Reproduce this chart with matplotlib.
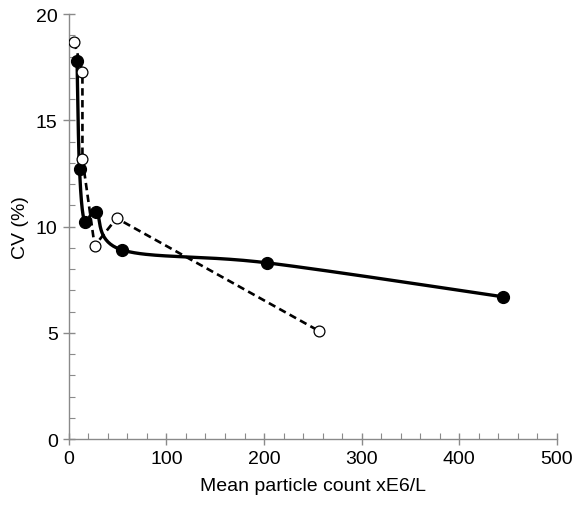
import numpy as np
import matplotlib
matplotlib.use("Agg")
import matplotlib.pyplot as plt
from matplotlib.ticker import MultipleLocator

plt.rcParams['font.family'] = ['Liberation Sans', 'DejaVu Sans']

# filled circles, solid smoothed line
count_filled = [8.5, 11, 16.5, 28, 55, 203, 445]
cv_filled = [17.8, 12.7, 10.2, 10.7, 8.9, 8.3, 6.7]

# open circles, dashed line
count_open = [5.5, 14, 14, 26.5, 49, 256]
cv_open = [18.7, 17.3, 13.2, 9.1, 10.4, 5.1]

x_ticks = [0, 100, 200, 300, 400, 500]
y_ticks = [0, 5, 10, 15, 20]


def smooth(xs, ys, sx, sy, n=40):
    # catmull-rom through the points, done in scaled coords so the curve looks right
    p = np.column_stack([np.asarray(xs) / sx, np.asarray(ys) / sy])
    p = np.vstack([p[0], p, p[-1]])
    out = []
    t = np.linspace(0, 1, n)[:, None]
    for i in range(1, len(p) - 2):
        p0, p1, p2, p3 = p[i - 1], p[i], p[i + 1], p[i + 2]
        seg = 0.5 * ((2 * p1) + (-p0 + p2) * t
                     + (2 * p0 - 5 * p1 + 4 * p2 - p3) * t ** 2
                     + (-p0 + 3 * p1 - 3 * p2 + p3) * t ** 3)
        out.append(seg)
    out = np.vstack(out)
    return out[:, 0] * sx, out[:, 1] * sy


fig = plt.figure(figsize=(5.73, 5.06), dpi=100)
ax = fig.add_axes([0.12, 0.13, 0.852, 0.84])

grey = '#8a8a8a'

sx, sy = smooth(count_filled, cv_filled, 500.0, 20.0 * 425 / 488)
ax.plot(sx, sy, color='black', lw=2.4, solid_capstyle='round', zorder=2)
ax.plot(count_filled, cv_filled, 'o', color='black', ms=8.5, zorder=3)

ax.plot(count_open, cv_open, color='black', lw=1.9, dashes=(2.8, 1.7), zorder=2)
ax.plot(count_open, cv_open, 'o', mfc='white', mec='black', mew=0.9, ms=7.8,
        ls='none', zorder=4)

ax.set_xlim(0, 500)
ax.set_ylim(0, 20)
ax.set_xticks(x_ticks)
ax.set_yticks(y_ticks)
ax.xaxis.set_minor_locator(MultipleLocator(20))
ax.yaxis.set_minor_locator(MultipleLocator(1))

for s in ['top', 'right']:
    ax.spines[s].set_visible(False)
for s in ['left', 'bottom']:
    ax.spines[s].set_color(grey)
    ax.spines[s].set_linewidth(1.0)

ax.tick_params(which='major', direction='inout', length=8, width=1.0,
               color=grey, labelsize=14, pad=4)
ax.tick_params(which='minor', direction='in', length=4, width=0.8, color=grey)

ax.set_xlabel('Mean particle count xE6/L', fontsize=14, labelpad=7)
ax.set_ylabel('CV (%)', fontsize=14, labelpad=5)

fig.savefig('out.png', dpi=100)
